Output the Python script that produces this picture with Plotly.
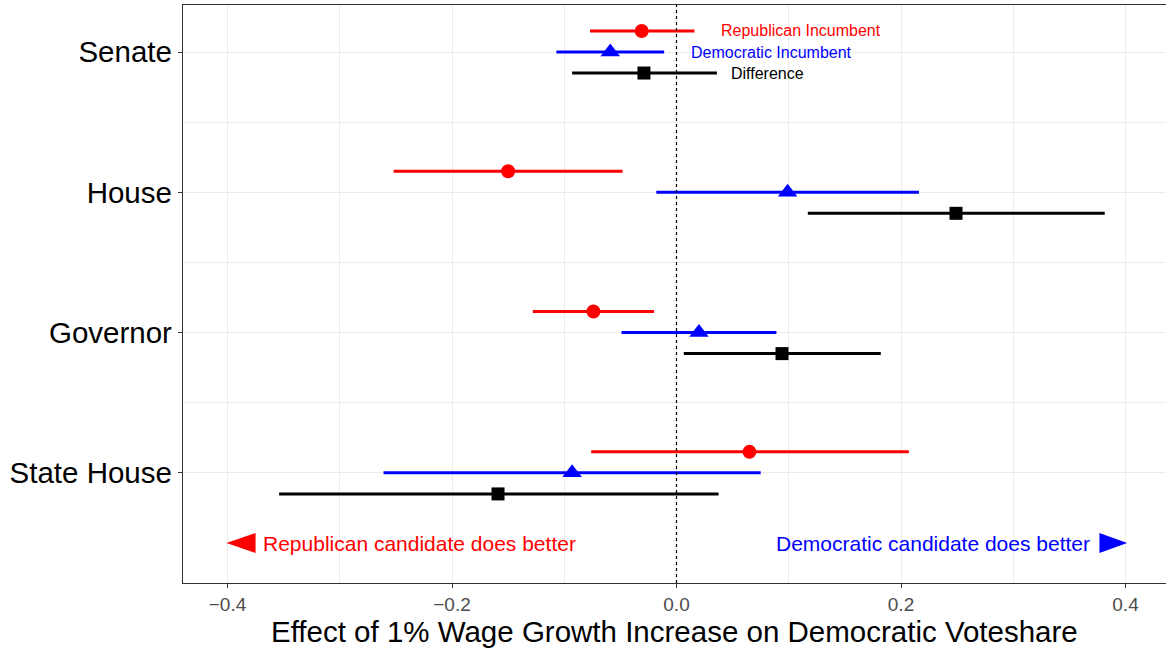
import plotly.graph_objects as go

# Offices (top to bottom) and their vertical positions
offices = ["Senate", "House", "Governor", "State House"]
office_pos = [4, 3, 2, 1]

# Estimates and 95% intervals, per office, for each series
rep_est = [-0.031, -0.150, -0.074, 0.065]
rep_lo = [-0.077, -0.252, -0.128, -0.076]
rep_hi = [0.016, -0.048, -0.020, 0.207]

dem_est = [-0.059, 0.099, 0.020, -0.093]
dem_lo = [-0.107, -0.018, -0.049, -0.261]
dem_hi = [-0.011, 0.216, 0.089, 0.075]

diff_est = [-0.029, 0.249, 0.094, -0.159]
diff_lo = [-0.093, 0.117, 0.0065, -0.354]
diff_hi = [0.036, 0.3815, 0.182, 0.0375]

series = [
    ("Republican Incumbent", rep_est, rep_lo, rep_hi, 0.15, "#FF0000", "circle", 14, 0.0375),
    ("Democratic Incumbent", dem_est, dem_lo, dem_hi, 0.0, "#0000FF", "triangle-up", 17, 0.0107),
    ("Difference", diff_est, diff_lo, diff_hi, -0.15, "#000000", "square", 13, 0.0464),
]

FONT = "Liberation Sans, Arial, sans-serif"

fig = go.Figure()

for name, est, lo, hi, offset, color, symbol, msize, label_x in series:
    ys = [p + offset for p in office_pos]
    fig.add_trace(go.Scatter(
        x=est, y=ys, mode="markers", name=name, showlegend=False,
        marker=dict(symbol=symbol, size=msize, color=color, line=dict(width=0)),
        error_x=dict(type="data", symmetric=False,
                     array=[h - e for h, e in zip(hi, est)],
                     arrayminus=[e - l for e, l in zip(est, lo)],
                     color=color, thickness=3, width=0),
    ))
    # series label beside the Senate row
    fig.add_annotation(x=label_x, y=office_pos[0] + offset, text=name,
                       showarrow=False, xanchor="left", yanchor="middle",
                       font=dict(family=FONT, size=16, color=color))

# Direction hints along the bottom of the panel
hint_y = 0.5
fig.add_trace(go.Scatter(
    x=[-0.401, -0.375, -0.375, -0.401], y=[hint_y, hint_y + 0.072, hint_y - 0.072, hint_y],
    mode="lines", fill="toself", fillcolor="#FF0000", line=dict(width=0, color="#FF0000"),
    showlegend=False, hoverinfo="skip"))
fig.add_trace(go.Scatter(
    x=[0.4015, 0.3768, 0.3768, 0.4015], y=[hint_y, hint_y + 0.072, hint_y - 0.072, hint_y],
    mode="lines", fill="toself", fillcolor="#0000FF", line=dict(width=0, color="#0000FF"),
    showlegend=False, hoverinfo="skip"))
fig.add_annotation(x=-0.3705, y=hint_y, text="Republican candidate does better",
                   showarrow=False, xanchor="left", yanchor="middle",
                   font=dict(family=FONT, size=21, color="#FF0000"))
fig.add_annotation(x=0.3705, y=hint_y, text="Democratic candidate does better",
                   showarrow=False, xanchor="right", yanchor="middle",
                   font=dict(family=FONT, size=21, color="#0000FF"))

# Dotted reference line at zero effect
fig.add_shape(type="line", x0=0, x1=0, xref="x", y0=0, y1=1, yref="paper",
              line=dict(color="black", width=1.2, dash="dot"), layer="above")

# x-axis title placed under the tick labels
fig.add_annotation(x=0.5, xref="paper", y=-0.0835, yref="paper",
                   text="Effect of 1% Wage Growth Increase on Democratic Voteshare",
                   showarrow=False, xanchor="center", yanchor="middle",
                   font=dict(family=FONT, size=29.5, color="black"))

grid = "#EBEBEB"
fig.update_layout(
    width=1166, height=648,
    margin=dict(l=183, r=0, t=5, b=65),
    plot_bgcolor="white", paper_bgcolor="white",
    font=dict(family=FONT),
    xaxis=dict(
        range=[-0.43964, 0.43608], tickvals=[-0.4, -0.2, 0.0, 0.2, 0.4],
        ticktext=["\u22120.4", "\u22120.2", "0.0", "0.2", "0.4"],
        showgrid=True, gridcolor=grid, gridwidth=1, zeroline=False,
        minor=dict(tickvals=[-0.3, -0.1, 0.1, 0.3], showgrid=True, gridcolor=grid, gridwidth=0.6),
        showline=True, linecolor="#333333", linewidth=1.3, mirror=True,
        ticks="outside", ticklen=4, tickcolor="#333333", tickwidth=1,
        tickfont=dict(family=FONT, size=19, color="#4D4D4D"),
    ),
    yaxis=dict(
        range=[0.215, 4.335], tickvals=office_pos, ticktext=offices,
        showgrid=True, gridcolor=grid, gridwidth=1, zeroline=False,
        minor=dict(tickvals=[1.5, 2.5, 3.5], showgrid=True, gridcolor=grid, gridwidth=0.6),
        showline=True, linecolor="#333333", linewidth=1.3, mirror=False,
        ticks="outside", ticklen=4, tickcolor="#333333", tickwidth=1,
        tickfont=dict(family=FONT, size=29.5, color="black"),
    ),
)

fig.write_html("out.html")
